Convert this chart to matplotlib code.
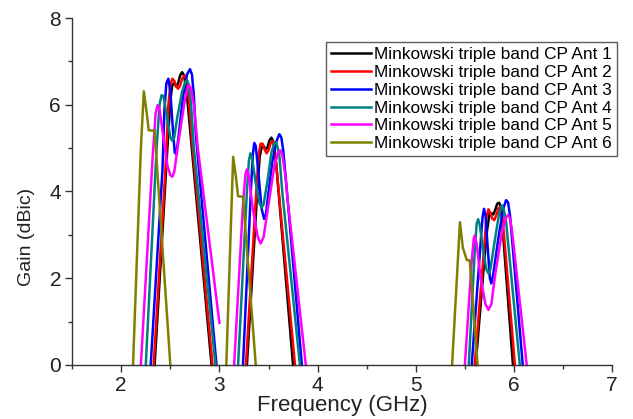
#!/usr/bin/env python3
"""Gain vs frequency for the six Minkowski triple band CP antennas."""

import numpy as np
import matplotlib
matplotlib.use("Agg")
import matplotlib.pyplot as plt
from matplotlib.ticker import MultipleLocator

plt.rcParams["font.family"] = ["Liberation Sans", "DejaVu Sans"]

NAN = np.nan

# values, NaN separates the three bands
ANT1_F = [2.34, 2.47, 2.50, 2.52, 2.54, 2.56, 2.58, 2.60, 2.62, 2.64, 2.67, 2.73, 2.92, NAN,
          3.28, 3.38, 3.41, 3.43, 3.45, 3.47, 3.49, 3.51, 3.53, 3.55, 3.58, 3.75, NAN,
          5.61, 5.72, 5.75, 5.77, 5.79, 5.81, 5.83, 5.85, 5.87, 5.99]
ANT1_G = [0.0, 5.0, 6.1, 6.45, 6.5, 6.42, 6.5, 6.68, 6.75, 6.68, 6.2, 4.72, 0.0, NAN,
          0.0, 3.8, 4.8, 5.02, 5.05, 4.97, 5.02, 5.18, 5.24, 5.15, 4.6, 0.0, NAN,
          0.0, 3.0, 3.48, 3.5, 3.47, 3.58, 3.72, 3.74, 3.6, 0.0]

ANT2_F = [2.33, 2.45, 2.48, 2.50, 2.52, 2.54, 2.56, 2.58, 2.60, 2.62, 2.64, 2.66, 2.68, 2.72, 2.93, NAN,
          3.27, 3.37, 3.40, 3.42, 3.44, 3.46, 3.48, 3.50, 3.52, 3.54, 3.56, 3.60, 3.77, NAN,
          5.60, 5.70, 5.72, 5.74, 5.76, 5.78, 5.80, 5.82, 5.84, 5.86, 5.88, 6.01]
ANT2_G = [0.0, 4.5, 6.0, 6.45, 6.6, 6.55, 6.42, 6.37, 6.45, 6.6, 6.67, 6.6, 6.35, 5.2, 0.0, NAN,
          0.0, 3.8, 4.85, 5.1, 5.1, 4.97, 4.88, 4.95, 5.1, 5.17, 5.05, 4.1, 0.0, NAN,
          0.0, 2.8, 3.4, 3.59, 3.5, 3.37, 3.34, 3.45, 3.6, 3.65, 3.5, 0.0]

ANT3_F = [2.30, 2.42, 2.44, 2.46, 2.48, 2.50, 2.53, 2.545, 2.56, 2.58, 2.63, 2.67, 2.70, 2.72, 2.74, 2.76, 2.97, NAN,
          3.24, 3.32, 3.34, 3.355, 3.37, 3.39, 3.43, 3.455, 3.47, 3.49, 3.54, 3.58, 3.61, 3.63, 3.65, 3.68, 3.84, NAN,
          5.57, 5.66, 5.68, 5.695, 5.71, 5.73, 5.755, 5.77, 5.79, 5.84, 5.89, 5.92, 5.94, 5.96, 6.09]
ANT3_G = [0.0, 4.5, 5.9, 6.5, 6.6, 6.3, 5.3, 4.9, 4.86, 5.2, 6.2, 6.7, 6.82, 6.7, 6.2, 5.3, 0.0, NAN,
          0.0, 4.0, 4.85, 5.12, 5.05, 4.6, 3.6, 3.37, 3.4, 3.8, 4.7, 5.15, 5.32, 5.25, 4.95, 4.2, 0.0, NAN,
          0.0, 2.8, 3.4, 3.6, 3.45, 2.8, 2.0, 1.88, 2.1, 2.9, 3.6, 3.8, 3.75, 3.45, 0.0]

ANT4_F = [2.25, 2.36, 2.39, 2.41, 2.43, 2.46, 2.50, 2.52, 2.54, 2.57, 2.62, 2.65, 2.67, 2.69, 2.71, 2.74, 2.96, NAN,
          3.19, 3.28, 3.30, 3.315, 3.33, 3.37, 3.41, 3.43, 3.45, 3.49, 3.53, 3.56, 3.58, 3.61, 3.64, 3.82, NAN,
          5.54, 5.60, 5.62, 5.635, 5.65, 5.69, 5.72, 5.74, 5.76, 5.80, 5.85, 5.875, 5.895, 5.92, 6.06]
ANT4_G = [0.0, 5.0, 6.0, 6.22, 6.2, 5.8, 5.25, 5.17, 5.25, 5.7, 6.3, 6.52, 6.57, 6.45, 6.05, 5.0, 0.0, NAN,
          0.0, 4.0, 4.7, 4.88, 4.8, 4.2, 3.72, 3.63, 3.7, 4.25, 4.9, 5.12, 5.13, 4.85, 4.0, 0.0, NAN,
          0.0, 2.6, 3.25, 3.36, 3.25, 2.6, 2.2, 2.11, 2.2, 2.8, 3.5, 3.68, 3.6, 3.3, 0.0]

ANT5_F = [2.20, 2.32, 2.35, 2.37, 2.39, 2.42, 2.47, 2.50, 2.52, 2.54, 2.58, 2.64, 2.67, 2.69, 2.71, 2.74, 2.78, 3.00, NAN,
          3.15, 3.24, 3.265, 3.28, 3.30, 3.34, 3.39, 3.42, 3.45, 3.50, 3.56, 3.60, 3.62, 3.64, 3.67, 3.70, 3.88, NAN,
          5.50, 5.57, 5.59, 5.60, 5.62, 5.66, 5.71, 5.74, 5.77, 5.81, 5.88, 5.92, 5.94, 5.96, 5.98, 6.13]
ANT5_G = [0.0, 4.8, 5.8, 5.99, 5.9, 5.4, 4.6, 4.38, 4.34, 4.45, 5.1, 6.0, 6.35, 6.45, 6.38, 6.0, 5.0, 0.97, NAN,
          0.0, 3.7, 4.4, 4.51, 4.35, 3.6, 2.95, 2.8, 2.95, 3.7, 4.6, 4.9, 4.95, 4.85, 4.4, 3.7, 0.0, NAN,
          0.0, 2.4, 2.9, 2.98, 2.8, 2.0, 1.4, 1.27, 1.4, 2.1, 3.1, 3.4, 3.46, 3.38, 3.1, 0.0]

ANT6_F = [2.12, 2.20, 2.23, 2.26, 2.28, 2.34, 2.50, NAN,
          3.07, 3.14, 3.17, 3.19, 3.24, 3.37, NAN,
          5.37, 5.45, 5.48, 5.52, 5.55, 5.63]
ANT6_G = [0.0, 5.0, 6.31, 5.8, 5.41, 5.40, 0.0, NAN,
          0.0, 4.80, 4.3, 3.89, 3.88, 0.0, NAN,
          0.0, 3.29, 2.7, 2.42, 2.41, 0.0]

LABELS = [f"Minkowski triple band CP Ant {i}" for i in range(1, 7)]
COLORS = ["#000000", "#ff0000", "#0000ff", "#008080", "#ff00ff", "#808000"]


def main():
    fig = plt.figure(figsize=(6.33, 4.19), dpi=100)
    ax = fig.add_axes([0.114, 0.129, 0.853, 0.828])

    series = [(ANT1_F, ANT1_G), (ANT2_F, ANT2_G), (ANT3_F, ANT3_G),
              (ANT4_F, ANT4_G), (ANT5_F, ANT5_G), (ANT6_F, ANT6_G)]
    for (f, g), label, color in zip(series, LABELS, COLORS):
        ax.plot(f, g, color=color, linewidth=1.8, label=label,
                solid_joinstyle="round", clip_on=False)

    ax.set_xlim(1.5, 7)
    ax.set_ylim(0, 8)
    ax.xaxis.set_major_locator(MultipleLocator(1))
    ax.xaxis.set_minor_locator(MultipleLocator(0.5))
    ax.yaxis.set_major_locator(MultipleLocator(2))
    ax.yaxis.set_minor_locator(MultipleLocator(1))

    for side in ("top", "right"):
        ax.spines[side].set_visible(False)
    for side in ("left", "bottom"):
        ax.spines[side].set_color("#333333")
        ax.spines[side].set_linewidth(1.0)
    ax.tick_params(which="major", direction="out", length=5, width=1,
                   colors="#333333", labelsize=15, labelcolor="#222222", pad=3)
    ax.tick_params(which="minor", direction="out", length=3, width=1,
                   colors="#333333")

    ax.set_xlabel("Frequency (GHz)", fontsize=16, color="#222222", labelpad=0)
    ax.set_ylabel("Gain (dBic)", fontsize=14, color="#222222")
    # the label sits below the middle of the axis in the original
    ax.yaxis.set_label_coords(-0.068, 0.37)

    leg = ax.legend(loc="upper right", bbox_to_anchor=(1.009, 0.931),
                    fontsize=12.4, frameon=True, fancybox=False,
                    edgecolor="#333333", handlelength=2.3, handletextpad=0.17,
                    labelspacing=0.16, borderpad=0.3, borderaxespad=0)
    leg.get_frame().set_linewidth(1.0)

    fig.savefig("out.png", dpi=100)
    plt.close(fig)


if __name__ == "__main__":
    main()
